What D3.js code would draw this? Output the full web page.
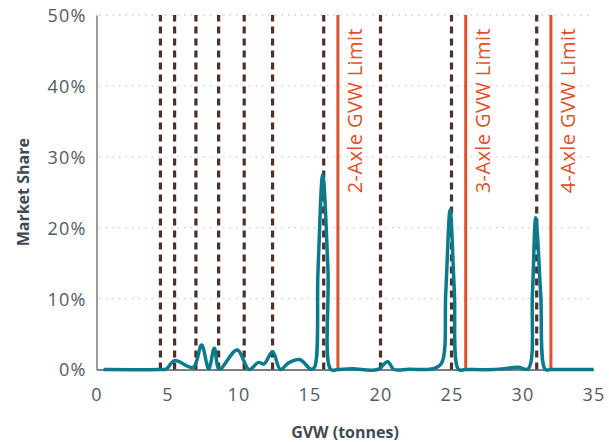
<!DOCTYPE html>
<html>
<head>
<meta charset="utf-8">
<script src="https://cdn.jsdelivr.net/npm/d3@7"></script>
<style>
  html, body { margin: 0; padding: 0; background: #fff; }
  svg { display: block; }
  text { font-family: "Open Sans", sans-serif; }
</style>
</head>
<body>
<svg id="chart" width="609" height="442"></svg>
<script>
// Market share by gross vehicle weight (tonnes)
const gvw = [0.5, 4.5, 4.9, 5.5, 6.8, 7.4, 7.9, 8.3, 8.65, 9.9, 10.75, 11.4, 11.8, 12.4, 12.95,
             13.5, 14.3, 15.1, 15.35, 15.6, 15.93, 16.3, 16.5, 17, 18, 19.8, 20.5, 20.95, 22,
             23.7, 24.3, 24.6, 24.9, 25.2, 25.5, 26, 28, 29.7, 30.4, 30.7, 30.93, 31.28, 31.6,
             32, 35];
const share = [0, 0, 0.05, 1.25, 0.3, 3.45, 0.1, 3.0, 0.05, 2.75, 0, 1.0, 0.8, 2.5, 0,
               0.9, 1.4, 0.05, 0.3, 14, 27.5, 14, 0, 0, 0.1, 0.0, 1.1, 0, 0.05,
               0.1, 0.9, 11, 22.5, 11, 0, 0, 0, 0.3, 0.1, 10.7, 21.4, 10.7, 0,
               0, 0];

// Weight class boundaries (dashed) and axle GVW limits (solid)
const classBounds = [4.5, 5.5, 7, 8.6, 10.4, 12.4, 16, 20, 25, 31];
const axleLimits = [17, 26, 32];
const axleLabels = ["2-Axle GVW Limit", "3-Axle GVW Limit", "4-Axle GVW Limit"];

const xTicks = [0, 5, 10, 15, 20, 25, 30, 35];
const yTicks = [0, 10, 20, 30, 40, 50];

const margin = { top: 15, right: 15.5, bottom: 72.5, left: 96.5 };
const W = 609, H = 442;
const svg = d3.select("#chart");

const x = d3.scaleLinear().domain([0, 35]).range([margin.left, W - margin.right]);
const y = d3.scaleLinear().domain([0, 50]).range([H - margin.bottom, margin.top]);

// dotted horizontal gridlines
svg.append("g")
  .selectAll("line")
  .data(yTicks.filter(d => d > 0))
  .join("line")
  .attr("x1", x(0) + 3).attr("x2", x(35) - 4)
  .attr("y1", d => y(d)).attr("y2", d => y(d))
  .attr("stroke", "#c9cdd1").attr("stroke-width", 1.3)
  .attr("stroke-dasharray", "1.5,5");

// y axis
const yAxis = svg.append("g")
  .attr("transform", `translate(${x(0)},0)`)
  .call(d3.axisLeft(y).tickValues(yTicks).tickSize(0).tickPadding(10).tickFormat(d => d + "%"));
yAxis.select(".domain").attr("stroke", "#6f7a84").attr("stroke-width", 1.5);
yAxis.selectAll("text").attr("font-size", 18).attr("letter-spacing", 1.2)
  .attr("fill", "#505b66").attr("dy", "0.36em");

// x axis
const xAxis = svg.append("g")
  .attr("transform", `translate(0,${y(0)})`)
  .call(d3.axisBottom(x).tickValues(xTicks).tickSize(0).tickPadding(19));
xAxis.select(".domain").attr("stroke", "#4a5560").attr("stroke-width", 1.5);
xAxis.selectAll("text").attr("font-size", 18).attr("letter-spacing", 1.2).attr("fill", "#505b66");

// class boundary lines
svg.append("g")
  .selectAll("line")
  .data(classBounds)
  .join("line")
  .attr("x1", d => x(d)).attr("x2", d => x(d))
  .attr("y1", y(0)).attr("y2", y(50))
  .attr("stroke", "#4b3128").attr("stroke-width", 3.2)
  .attr("stroke-dasharray", "7,5");

// axle limit lines
svg.append("g")
  .selectAll("line")
  .data(axleLimits)
  .join("line")
  .attr("x1", d => x(d)).attr("x2", d => x(d))
  .attr("y1", y(0)).attr("y2", y(50))
  .attr("stroke", "#e0502c").attr("stroke-width", 3);

// axle limit labels
svg.append("g")
  .selectAll("text")
  .data(axleLimits)
  .join("text")
  .attr("transform", d => `translate(${x(d) + 24},${y(25) + 1}) rotate(-90)`)
  .attr("text-anchor", "start")
  .attr("font-size", 20)
  .attr("letter-spacing", 0.4)
  .attr("fill", "#e0502c")
  .text((d, i) => axleLabels[i]);

// market share line
const pts = gvw.map((g, i) => [g, share[i]]);
svg.append("path")
  .datum(pts)
  .attr("fill", "none")
  .attr("stroke", "#0a7a8c")
  .attr("stroke-width", 3.5)
  .attr("stroke-linejoin", "round")
  .attr("d", d3.line().x(d => x(d[0])).y(d => y(d[1])).curve(d3.curveCatmullRom.alpha(0.5)));

// axis titles
svg.append("text")
  .attr("transform", `translate(29,${(y(0) + y(50)) / 2}) rotate(-90)`)
  .attr("text-anchor", "middle")
  .attr("font-size", 16).attr("font-weight", 700)
  .attr("fill", "#3f4a55")
  .text("Market Share");

svg.append("text")
  .attr("x", (x(0) + x(35)) / 2).attr("y", 438)
  .attr("text-anchor", "middle")
  .attr("font-size", 16).attr("font-weight", 700)
  .attr("fill", "#3f4a55")
  .text("GVW (tonnes)");
</script>
</body>
</html>
